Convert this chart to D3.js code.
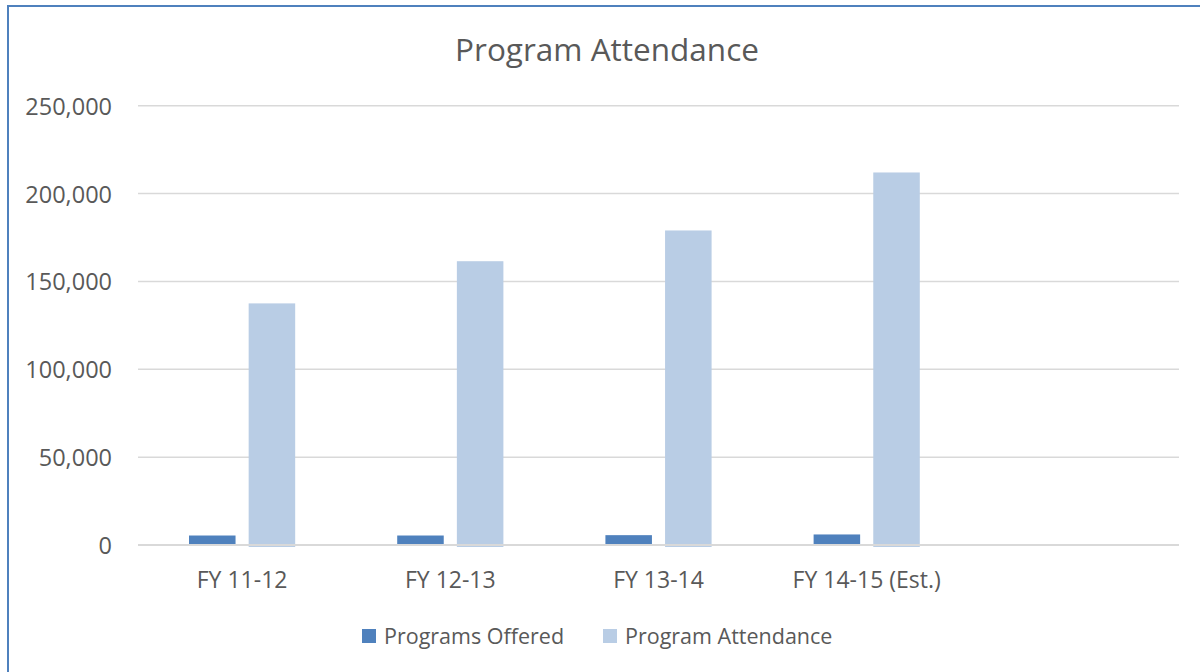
<!DOCTYPE html>
<html>
<head>
<meta charset="utf-8">
<script src="https://cdn.jsdelivr.net/npm/d3@7"></script>
<style>
  html, body { margin: 0; padding: 0; background: #fff; }
  svg { display: block; }
  text { font-family: "Open Sans", Lato, sans-serif; fill: #595959; }
</style>
</head>
<body>
<svg id="chart" width="1200" height="672"></svg>
<script>
// ---- data ----
const categories = ["FY 11-12", "FY 12-13", "FY 13-14", "FY 14-15 (Est.)", ""];
const programsOffered = [5400, 5400, 5600, 6000];
const programAttendance = [137500, 161500, 179000, 212000];
const seriesNames = ["Programs Offered", "Program Attendance"];
const seriesColors = ["#4f81bd", "#b9cde5"];
const yTicks = [0, 50000, 100000, 150000, 200000, 250000];

// ---- layout ----
const W = 1200, H = 672;
const FONT = "'Open Sans', Lato, sans-serif";
const plot = { left: 138, right: 1179, top: 105.7, bottom: 545 };
const svg = d3.select("#chart");

svg.append("rect").attr("x", 0).attr("y", 0).attr("width", W).attr("height", H).attr("fill", "#fff");
// chart frame (extends past the window)
svg.append("rect")
  .attr("x", 8).attr("y", 6).attr("width", 1400).attr("height", 900)
  .attr("fill", "none").attr("stroke", "#4f81bd").attr("stroke-width", 2);

const x0 = d3.scaleBand().domain(categories).range([plot.left, plot.right]);
const y = d3.scaleLinear().domain([0, 250000]).range([plot.bottom, plot.top]);
const bw = x0.bandwidth();
const x1 = d3.scaleBand().domain(seriesNames).range([bw * 0.245, bw * 0.755]).paddingInner(0.22);

// y labels via axis
const yAxis = d3.axisLeft(y).tickValues(yTicks).tickFormat(d3.format(",")).tickSize(0).tickPadding(0);
const gy = svg.append("g").attr("transform", `translate(${plot.left - 26},0)`).call(yAxis);
gy.select(".domain").remove();
gy.selectAll("text").attr("font-size", 23.5).attr("fill", "#595959").attr("dy", "0.36em")
  .style("font-family", FONT);

// gridlines
svg.append("g").selectAll("line").data(yTicks.filter(d => d > 0)).join("line")
  .attr("x1", plot.left).attr("x2", plot.right)
  .attr("y1", d => y(d)).attr("y2", d => y(d))
  .attr("stroke", "#d9d9d9").attr("stroke-width", 1.5);

// bars
const rows = categories.slice(0, programsOffered.length).map((c, i) => ({
  cat: c, vals: [programsOffered[i], programAttendance[i]]
}));
const groups = svg.append("g").selectAll("g").data(rows).join("g")
  .attr("transform", d => `translate(${x0(d.cat)},0)`);
groups.selectAll("rect").data(d => d.vals.map((v, j) => ({ v, s: seriesNames[j], j }))).join("rect")
  .attr("x", d => x1(d.s))
  .attr("width", x1.bandwidth())
  .attr("y", d => y(d.v))
  .attr("height", d => y(0) - y(d.v) + (d.j === 1 ? 2 : 0))
  .attr("fill", d => seriesColors[d.j]);

// baseline axis
svg.append("line")
  .attr("x1", plot.left).attr("x2", plot.right)
  .attr("y1", y(0)).attr("y2", y(0))
  .attr("stroke", "#d9d9d9").attr("stroke-width", 2);

// category labels via axis
const xAxis = d3.axisBottom(x0).tickSize(0).tickPadding(0);
const gx = svg.append("g").attr("transform", `translate(0,${plot.bottom + 43})`).call(xAxis);
gx.select(".domain").remove();
gx.selectAll("text").attr("font-size", 23).attr("fill", "#595959").attr("dy", 0)
  .style("font-family", FONT);

// title
svg.append("text").attr("x", 607).attr("y", 61).attr("text-anchor", "middle")
  .attr("font-size", 31.5).text("Program Attendance");

// legend
const legendX = [362, 603];
const lg = svg.append("g").selectAll("g").data(seriesNames).join("g")
  .attr("transform", (d, i) => `translate(${legendX[i]},629)`);
lg.append("rect").attr("width", 14).attr("height", 14).attr("fill", (d, i) => seriesColors[i]);
lg.append("text").attr("x", 22).attr("y", 15).attr("font-size", 21.5).text(d => d);
</script>
</body>
</html>
